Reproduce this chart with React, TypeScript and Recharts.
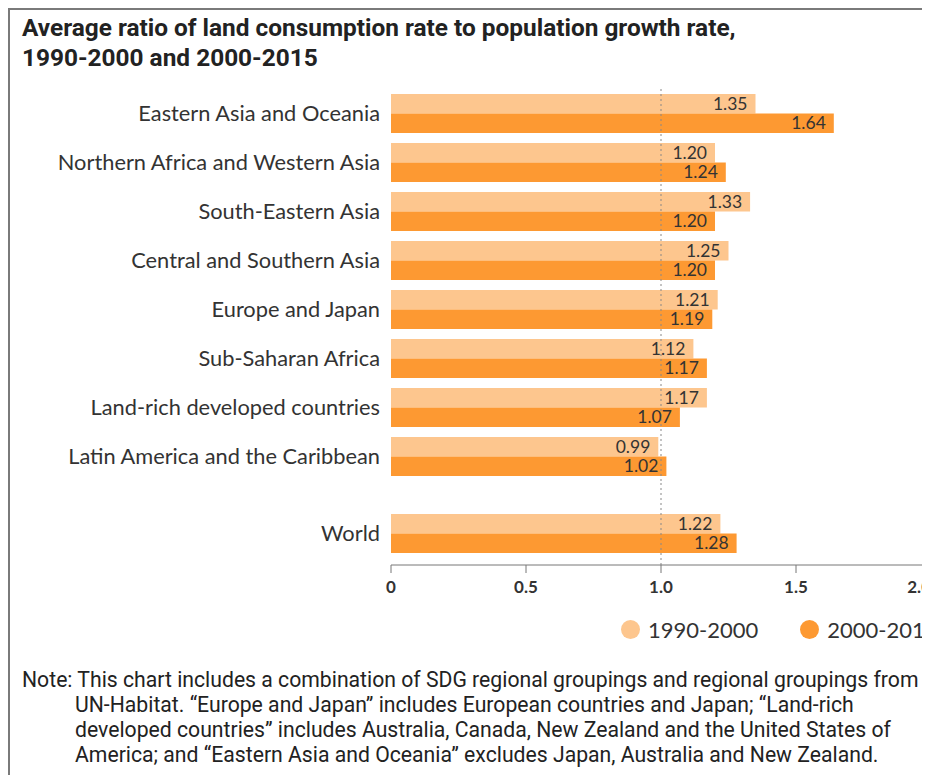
import React from "react";
import {
  BarChart,
  Bar,
  XAxis,
  YAxis,
  ReferenceLine,
  LabelList,
  Legend,
} from "recharts";

const regions = [
  "Eastern Asia and Oceania",
  "Northern Africa and Western Asia",
  "South-Eastern Asia",
  "Central and Southern Asia",
  "Europe and Japan",
  "Sub-Saharan Africa",
  "Land-rich developed countries",
  "Latin America and the Caribbean",
];
const ratio1990 = [1.35, 1.2, 1.33, 1.25, 1.21, 1.12, 1.17, 0.99];
const ratio2000 = [1.64, 1.24, 1.2, 1.2, 1.19, 1.17, 1.07, 1.02];

const worldLabel = "World";
const world1990 = 1.22;
const world2000 = 1.28;

const seriesNames = ["1990-2000", "2000-2015"];
const xTicks = [0, 0.5, 1, 1.5, 2];

const LIGHT = "#fdc68e";
const DARK = "#fd9932";
const FONT = "Lato, 'Open Sans', sans-serif";
const NARROW = "Roboto, 'Liberation Sans', sans-serif";

const regionData = regions.map((region, i) => ({
  region,
  early: ratio1990[i],
  late: ratio2000[i],
}));
const worldData = [{ region: worldLabel, early: world1990, late: world2000 }];

const fmtValue = (v: any) => Number(v).toFixed(2);
const fmtTick = (v: number) => (v === 0 ? "0" : v.toFixed(1));

const yTick = { fill: "#333", fontSize: 21.8, fontFamily: FONT };
const labelStyle = { fill: "#333", fontSize: 17.5, fontFamily: FONT };

// last tick label sits flush with the right end of the axis
function XTick(props: any) {
  const { x, y, payload } = props;
  const last = payload.value === xTicks[xTicks.length - 1];
  return (
    <text
      x={x}
      y={y}
      dy="0.9em"
      textAnchor={last ? "end" : "middle"}
      fill="#333"
      fontSize={17}
      fontWeight={700}
      fontFamily={FONT}
    >
      {fmtTick(payload.value)}
    </text>
  );
}

function LegendContent(props: any) {
  const items = props.payload || [];
  return (
    <div
      style={{
        display: "flex",
        alignItems: "center",
        height: 24,
        fontFamily: FONT,
        fontSize: 22,
        color: "#333",
        whiteSpace: "nowrap",
      }}
    >
      {items.map((it: any) => (
        <span
          key={it.value}
          style={{ display: "flex", alignItems: "center", marginRight: 42 }}
        >
          <span
            style={{
              width: 19,
              height: 19,
              borderRadius: "50%",
              background: it.color,
              marginRight: 8,
            }}
          />
          {it.value}
        </span>
      ))}
    </div>
  );
}

function Bars() {
  return [
    <Bar
      key="early"
      dataKey="early"
      name={seriesNames[0]}
      fill={LIGHT}
      barSize={19.5}
      isAnimationActive={false}
    >
      <LabelList
        dataKey="early"
        position="insideRight"
        offset={8}
        formatter={fmtValue}
        style={labelStyle}
      />
    </Bar>,
    <Bar
      key="late"
      dataKey="late"
      name={seriesNames[1]}
      fill={DARK}
      barSize={19.5}
      isAnimationActive={false}
    >
      <LabelList
        dataKey="late"
        position="insideRight"
        offset={8}
        formatter={fmtValue}
        style={labelStyle}
      />
    </Bar>,
  ];
}

export default function App() {
  return (
    <div
      style={{
        position: "relative",
        width: 960,
        height: 780,
        boxSizing: "border-box",
        borderTop: "2px solid #7a7a7a",
        borderLeft: "2px solid #7a7a7a",
        overflow: "hidden",
        background: "#fff",
      }}
    >
      <style>{"html, body { overflow: hidden; }"}</style>
      <div
        style={{
          position: "absolute",
          left: 12,
          top: 3,
          fontFamily: NARROW,
          fontWeight: 700,
          fontSize: 24.4,
          lineHeight: "30px",
          color: "#222",
          whiteSpace: "nowrap",
        }}
      >
        Average ratio of land consumption rate to population growth rate,
        <br />
        1990-2000 and 2000-2015
      </div>

      <div style={{ position: "absolute", left: 0, top: 79 }}>
        <BarChart
          width={950}
          height={392}
          data={regionData}
          layout="vertical"
          barGap={0}
          margin={{ top: 0, right: 29, bottom: 0, left: 0 }}
        >
          <XAxis type="number" domain={[0, 2]} ticks={xTicks} hide />
          <YAxis
            type="category"
            dataKey="region"
            width={381}
            axisLine={false}
            tickLine={false}
            tickMargin={5}
            tick={yTick}
            interval={0}
          />
          <ReferenceLine x={1} stroke="#888" strokeDasharray="2 3" />
          {Bars()}
        </BarChart>
      </div>

      <div style={{ position: "absolute", left: 0, top: 471 }}>
        <BarChart
          width={950}
          height={148}
          data={worldData}
          layout="vertical"
          barGap={0}
          margin={{ top: 0, right: 29, bottom: 0, left: 0 }}
        >
          <XAxis
            type="number"
            domain={[0, 2]}
            ticks={xTicks}
            stroke="#777"
            tickSize={8}
            tickMargin={5}
            height={40}
            tick={<XTick />}
          />
          <YAxis
            type="category"
            dataKey="region"
            width={381}
            axisLine={false}
            tickLine={false}
            tickMargin={5}
            tick={yTick}
            padding={{ top: 28, bottom: 7 }}
          />
          <ReferenceLine x={1} stroke="#888" strokeDasharray="2 3" />
          {Bars()}
          <Legend
            content={<LegendContent />}
            wrapperStyle={{ left: 611, top: 136, width: 400 }}
          />
        </BarChart>
      </div>

      <div
        style={{
          position: "absolute",
          left: 12,
          top: 657,
          fontFamily: NARROW,
          fontSize: 21.2,
          lineHeight: "25px",
          color: "#222",
          whiteSpace: "nowrap",
          paddingLeft: 53,
          textIndent: -53,
        }}
      >
        Note: This chart includes a combination of SDG regional groupings and regional groupings from
        <br />
        UN-Habitat. “Europe and Japan” includes European countries and Japan; “Land-rich
        <br />
        developed countries” includes Australia, Canada, New Zealand and the United States of
        <br />
        America; and “Eastern Asia and Oceania” excludes Japan, Australia and New Zealand.
      </div>
    </div>
  );
}
